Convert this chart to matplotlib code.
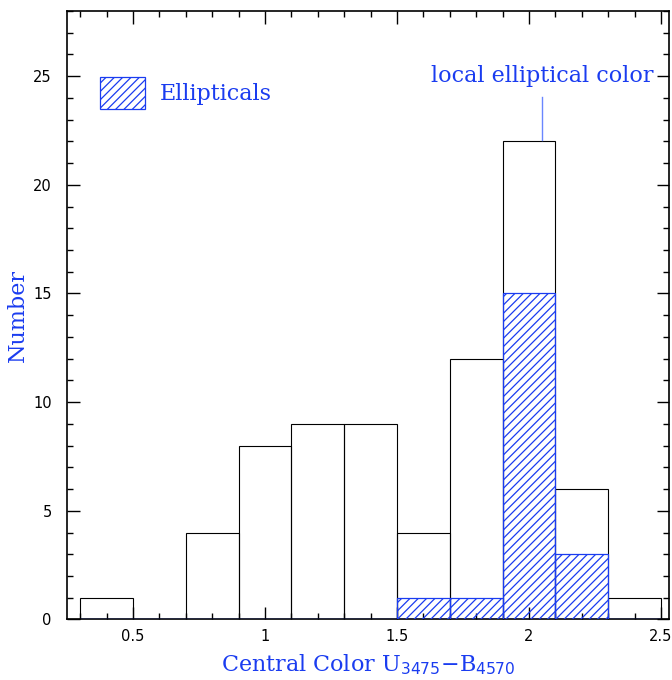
import numpy as np
import matplotlib.pyplot as plt

# Data (bin width 0.2)
bin_edges = [0.3, 0.5, 0.7, 0.9, 1.1, 1.3, 1.5, 1.7, 1.9, 2.1, 2.3, 2.5]
all_counts = [1, 0, 4, 8, 9, 9, 4, 12, 22, 6, 1]
ell_counts = [0, 0, 0, 0, 0, 0, 1, 1, 15, 3, 0]
local_ell_color = 2.05

BLUE = "#1a3cf0"

plt.rcParams["hatch.linewidth"] = 0.9
plt.rcParams["mathtext.fontset"] = "dejavuserif"


def main():

    fig = plt.figure(figsize=(6.72, 6.8), dpi=100)
    ax = fig.add_axes([0.0997, 0.089, 0.8958, 0.895])

    left = np.array(bin_edges[:-1])
    widths = np.diff(bin_edges)

    # all galaxies
    ax.bar(left, all_counts, width=widths, align="edge",
           facecolor="none", edgecolor="black", linewidth=0.8)

    # ellipticals, hatched (drawn over the spine so the baseline shows blue)
    ax.bar(left, ell_counts, width=widths, align="edge",
           facecolor="none", edgecolor=BLUE, hatch="////",
           linewidth=0.9, label="Ellipticals", zorder=3)

    # marker for the local elliptical color
    ax.plot([local_ell_color, local_ell_color], [22.05, 24.05],
            color="#6a86ff", linewidth=1.0)
    ax.text(local_ell_color, 25.0, "local elliptical color",
            ha="center", va="center", color=BLUE,
            family="DejaVu Serif", fontsize=16, clip_on=False)

    ax.set_xlim(0.25, 2.53)
    ax.set_ylim(0, 28)

    ax.set_xticks([0.5, 1, 1.5, 2, 2.5])
    ax.set_xticklabels(["0.5", "1", "1.5", "2", "2.5"])
    ax.set_xticks(np.arange(0.3, 2.55, 0.1), minor=True)
    ax.set_yticks([0, 5, 10, 15, 20, 25])
    ax.set_yticks(np.arange(0, 28.5, 1), minor=True)

    ax.tick_params(which="both", direction="in", top=True, right=True,
                   labelsize=10.5, width=1.0)
    ax.tick_params(which="major", length=9)
    ax.tick_params(which="minor", length=4.5)
    ax.tick_params(axis="x", which="major", pad=7)
    ax.tick_params(axis="y", which="major", pad=11)
    for sp in ax.spines.values():
        sp.set_linewidth(1.2)

    ax.set_xlabel(r"Central Color U$_{\mathsf{3475}}$$-$B$_{\mathsf{4570}}$",
                  color=BLUE, family="DejaVu Serif", fontsize=16, labelpad=6)
    ax.set_ylabel("Number", color=BLUE, family="DejaVu Serif",
                  fontsize=16, labelpad=3)

    leg = ax.legend(loc="upper left", bbox_to_anchor=(0.055, 0.892),
                    frameon=False, handlelength=2.0, handleheight=1.85,
                    handletextpad=0.68, borderaxespad=0, borderpad=0,
                    prop={"family": "DejaVu Serif", "size": 16})
    for t in leg.get_texts():
        t.set_color(BLUE)

    fig.savefig("out.png", dpi=100)


if __name__ == "__main__":
    main()
